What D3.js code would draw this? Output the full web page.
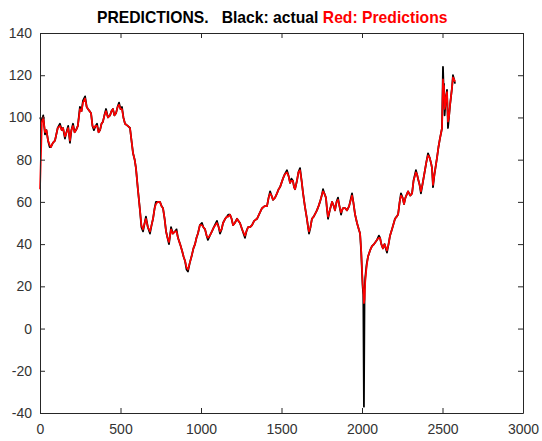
<!DOCTYPE html>
<html>
<head>
<meta charset="utf-8">
<script src="https://cdn.jsdelivr.net/npm/d3@7/dist/d3.min.js"></script>
<style>
  html, body { margin: 0; padding: 0; background: #fff; }
  svg { display: block; font-family: "Liberation Sans", Arial, Helvetica, sans-serif; }
  .tick text { fill: #333; font-size: 14px; }
</style>
</head>
<body>
<svg id="chart" width="542" height="441"></svg>
<script>
// Observation index (trading day) for every sample
const days = [
  0, 12, 20, 31, 40, 50, 60, 68, 80, 93, 110, 124, 135, 143, 155, 161, 175, 186, 195, 205,
  215, 224, 235, 248, 258, 267, 280, 290, 298, 308, 317, 326, 335, 345, 354, 364, 373, 382, 391, 400,
  410, 422, 435, 444, 453, 462, 472, 482, 491, 500, 509, 518, 528, 545, 559, 570, 578, 588, 596, 608,
  621, 630, 640, 650, 658, 670, 683, 693, 702, 712, 720, 732, 745, 755, 764, 774, 783, 792, 801, 808,
  814, 825, 839, 848, 857, 870, 882, 892, 901, 910, 919, 930, 944, 953, 963, 972, 981, 993, 1006, 1015,
  1025, 1035, 1043, 1055, 1068, 1080, 1099, 1110, 1118, 1128, 1137, 1150, 1161, 1170, 1180, 1190, 1199, 1210, 1224, 1232,
  1242, 1255, 1273, 1282, 1292, 1305, 1317, 1330, 1348, 1360, 1379, 1395, 1410, 1420, 1429, 1438, 1447, 1460, 1472, 1482,
  1491, 1500, 1509, 1520, 1534, 1545, 1553, 1562, 1571, 1578, 1584, 1590, 1596, 1605, 1615, 1625, 1634, 1645, 1658, 1665,
  1671, 1680, 1689, 1700, 1720, 1730, 1739, 1750, 1758, 1766, 1776, 1782, 1789, 1800, 1814, 1825, 1832, 1842, 1851, 1860,
  1870, 1876, 1882, 1895, 1907, 1920, 1938, 1946, 1957, 1963, 1969, 1980, 1988, 1995, 2000, 2004, 2008, 2012, 2016, 2020,
  2028, 2037, 2050, 2062, 2075, 2093, 2105, 2112, 2120, 2130, 2140, 2155, 2165, 2174, 2190, 2205, 2215, 2224, 2234, 2242,
  2252, 2261, 2270, 2286, 2300, 2311, 2320, 2335, 2342, 2348, 2358, 2366, 2375, 2391, 2400, 2410, 2420, 2430, 2435, 2441,
  2450, 2466, 2475, 2484, 2492, 2497, 2503, 2506, 2509, 2513, 2518, 2522, 2528, 2534, 2540, 2547, 2553, 2559, 2565, 2572,
  2578
];

// Actual price
const actual = [
  100, 98, 101, 92, 94, 89, 86, 86, 88, 89, 95, 97, 94, 95, 90, 92, 96, 88, 94, 97,
  93, 94, 96, 105, 103, 108, 110, 105, 104, 103, 102, 96, 94, 96, 97, 93, 94, 97, 98, 101,
  104, 100, 101, 103, 104, 101, 102, 105, 107, 104, 105, 100, 97, 96, 95, 88, 83, 80, 76, 66,
  56, 48, 46, 50, 53, 48, 45, 49, 52, 57, 60, 60, 60, 58, 57, 52, 46, 43, 40, 44,
  48, 45, 46, 47, 43, 40, 37, 34, 32, 28, 27, 31, 35, 38, 40, 43, 45, 49, 50, 48,
  47, 44, 42, 44, 46, 48, 51, 48, 45, 47, 50, 52, 53, 54, 54, 52, 49, 50, 52, 51,
  50, 47, 43, 46, 48, 48, 49, 51, 52, 54, 57, 58, 58, 62, 65, 63, 61, 62, 64, 66,
  67, 69, 71, 73, 75, 72, 69, 71, 70, 67, 66, 68, 70, 74, 76, 70, 64, 58, 52, 48,
  45, 48, 52, 53, 56, 58, 60, 63, 66, 64, 62, 57, 52, 56, 60, 58, 56, 60, 62, 58,
  54, 56, 57, 57, 56, 58, 64, 60, 54, 52, 50, 47, 45, 36, 27, 20, 16, -37, 18, 24,
  30, 34, 37, 39, 40, 42, 44, 43, 40, 38, 40, 36, 40, 44, 48, 52, 53, 54, 60, 64,
  62, 59, 62, 65, 63, 64, 70, 75, 73, 71, 68, 64, 68, 75, 79, 83, 81, 78, 76, 67,
  73, 81, 86, 90, 93, 95, 124, 116, 116, 101, 106, 110, 113, 95, 100, 106, 110, 114, 120, 118,
  116
];

// Model predictions
const predicted = [
  66, 98, 100, 93, 94, 89, 87, 86, 88, 89, 95, 96, 94, 95, 91, 92, 95, 89, 94, 96,
  93, 94, 96, 104, 103, 107, 109, 105, 104, 103, 102, 96, 95, 96, 96, 93, 94, 97, 98, 101,
  103, 100, 101, 103, 104, 101, 102, 105, 106, 104, 104, 100, 97, 96, 95, 88, 83, 80, 76, 66,
  56, 49, 47, 50, 52, 48, 46, 49, 52, 57, 59, 60, 60, 58, 57, 52, 46, 43, 41, 44,
  47, 45, 46, 46, 43, 40, 37, 34, 32, 29, 28, 31, 35, 38, 40, 43, 45, 49, 49, 48,
  47, 44, 43, 44, 46, 48, 50, 48, 46, 47, 50, 52, 53, 53, 54, 52, 49, 50, 52, 51,
  50, 47, 44, 46, 48, 48, 49, 51, 52, 54, 57, 58, 58, 62, 64, 63, 61, 62, 64, 66,
  67, 69, 71, 73, 74, 72, 69, 70, 70, 67, 66, 68, 70, 74, 75, 70, 64, 58, 52, 48,
  46, 48, 52, 53, 56, 58, 60, 63, 65, 64, 62, 57, 53, 56, 60, 58, 56, 60, 61, 58,
  55, 56, 57, 57, 56, 58, 63, 60, 54, 52, 50, 47, 45, 37, 28, 21, 18, 12, 14, 22,
  29, 34, 37, 39, 40, 42, 43, 43, 40, 38, 40, 37, 40, 44, 48, 52, 53, 54, 60, 63,
  62, 59, 62, 65, 63, 64, 70, 74, 73, 71, 68, 65, 68, 75, 79, 82, 81, 78, 76, 68,
  73, 81, 86, 90, 93, 95, 118, 114, 115, 104, 106, 110, 112, 98, 100, 106, 110, 114, 119, 118,
  117
];

const xTicks = [0, 500, 1000, 1500, 2000, 2500, 3000];
const yTicks = [-40, -20, 0, 20, 40, 60, 80, 100, 120, 140];
const plainNumber = d => String(d);

const svg = d3.select("#chart");
const plotLeft = 40, plotRight = 523, plotTop = 33, plotBottom = 413;

const x = d3.scaleLinear().domain([0, 3000]).range([plotLeft, plotRight]);
const y = d3.scaleLinear().domain([-40, 140]).range([plotBottom, plotTop]);

// Series lines: actual in black, predictions drawn over it in red
const line = vals => d3.line()
  .x((d, i) => x(days[i]))
  .y(d => y(d))(vals);

svg.append("path")
  .attr("d", line(actual))
  .attr("fill", "none")
  .attr("stroke", "#000")
  .attr("stroke-width", 1.8)
  .attr("stroke-linejoin", "round");

svg.append("path")
  .attr("d", line(predicted))
  .attr("fill", "none")
  .attr("stroke", "#f00")
  .attr("stroke-width", 1.7)
  .attr("stroke-linejoin", "round");

// Boxed axes with inward ticks on all four sides
const axisColor = "#262626";
function styleAxis(g) {
  g.select(".domain").attr("stroke", axisColor).attr("stroke-width", 1);
  g.selectAll(".tick line").attr("stroke", axisColor);
}

svg.append("g")
  .attr("transform", `translate(0,${plotBottom})`)
  .call(d3.axisBottom(x).tickValues(xTicks).tickFormat(plainNumber)
    .tickSizeInner(-5).tickSizeOuter(0).tickPadding(11))
  .call(styleAxis)
  .call(g => g.selectAll(".tick text").attr("font-family", null).attr("font-size", null));

svg.append("g")
  .attr("transform", `translate(${plotLeft},0)`)
  .call(d3.axisLeft(y).tickValues(yTicks).tickFormat(plainNumber)
    .tickSizeInner(-5).tickSizeOuter(0).tickPadding(8))
  .call(styleAxis)
  .call(g => g.selectAll(".tick text").attr("font-family", null).attr("font-size", null));

svg.append("g")
  .attr("transform", `translate(0,${plotTop})`)
  .call(d3.axisTop(x).tickValues(xTicks).tickSizeInner(-5).tickSizeOuter(0).tickFormat(""))
  .call(styleAxis);

svg.append("g")
  .attr("transform", `translate(${plotRight},0)`)
  .call(d3.axisRight(y).tickValues(yTicks).tickSizeInner(-5).tickSizeOuter(0).tickFormat(""))
  .call(styleAxis);

// Title
const title = svg.append("text")
  .attr("x", 97)
  .attr("y", 23)
  .attr("font-size", "15.7px")
  .attr("font-weight", "bold")
  .style("white-space", "pre");
title.append("tspan").attr("fill", "#000").text("PREDICTIONS.   Black: actual ");
title.append("tspan").attr("fill", "#f00").text("Red: Predictions");
</script>
</body>
</html>
